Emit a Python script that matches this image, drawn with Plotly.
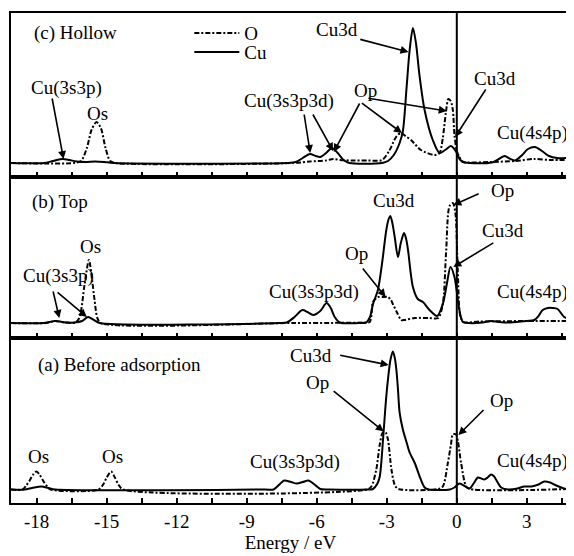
import plotly.graph_objects as go
from plotly.subplots import make_subplots

# ---------------- data (energy in eV, PDOS in arbitrary units) ----------------
# (c) Hollow
hollow_cu_energy = [-19.1, -17.7, -17.3, -16.9, -16.6, -16.3, -15.9, -15.5, -15.1, -14.7,
                    -7.3, -6.9, -6.6, -6.3, -6.05, -5.85, -5.6, -5.35, -5.1, -4.85, -4.6,
                    -3.2, -2.95, -2.7, -2.45, -2.31, -2.15, -2.02, -1.88, -1.75, -1.6, -1.38,
                    -1.03, -0.74, -0.5, -0.25, -0.05, 0.15, 0.35, 1.5, 1.8, 2.05, 2.3, 2.5,
                    2.8, 3.05, 3.35, 3.65, 3.95, 4.3, 4.85]
hollow_cu_dos = [0, 0, 2, 4, 3, 1.5, 1, 1.5, 1, 0,
                 0, 1, 5, 9, 7, 6, 10, 15, 10, 3, 0,
                 0, 2, 8, 20, 32, 76, 113, 135, 120, 88, 53,
                 23, 10, 13, 17, 12, 3, 0.5, 0.5, 4, 7, 4, 2.5,
                 8, 14, 16, 12, 7, 5, 5]
hollow_o_energy = [-19.1, -16.4, -16.1, -15.85, -15.65, -15.44, -15.25, -15.05, -14.85, -14.6,
                   -7.0, -6.3, -5.6, -5.3, -5.0, -4.5, -3.8, -3.2, -2.9, -2.6, -2.4, -2.2,
                   -1.96, -1.54, -0.95, -0.74, -0.6, -0.47, -0.36, -0.26, -0.17, -0.1, 0.0,
                   0.11, 0.25, 0.5, 1.5, 2.5, 3.3, 4.0, 4.85]
hollow_o_dos = [0, 0, 2, 15, 33, 41, 35, 15, 2, 0,
                0, 1.5, 2.5, 4, 3, 2.5, 2.5, 3, 12, 26, 30, 27,
                23, 13, 8, 10, 25, 50, 64, 62, 53, 28, 12,
                6, 1, 0.5, 1, 2, 4, 3, 3]

# (b) Top
top_cu_energy = [-19.1, -17.7, -17.45, -17.23, -17.0, -16.7, -16.4, -16.05, -15.8, -15.55, -15.3,
                 -7.6, -7.29, -6.95, -6.62, -6.4, -6.15, -5.85, -5.58, -5.4, -5.23, -5.01,
                 -4.2, -3.88, -3.72, -3.59, -3.38, -3.2, -3.02, -2.92, -2.85, -2.76, -2.66,
                 -2.52, -2.4, -2.26, -2.17, -2.09, -1.88, -1.67, -1.45, -1.17, -0.84, -0.6,
                 -0.42, -0.27, -0.1, 0.11, 0.26, 0.5, 1.1, 1.47, 1.8, 2.3, 3.0, 3.32, 3.5,
                 3.68, 3.9, 4.1, 4.32, 4.6, 4.85]
top_cu_dos = [0, 0, 1, 2, 1.5, 0.5, 0.5, 2, 6, 3, 0,
              0, 0.5, 6, 13, 11, 8, 12, 20, 15, 6, 0.5,
              0, 0.5, 6, 19, 33, 60, 93, 104, 107, 100, 86,
              66, 80, 90, 84, 73, 36, 24, 21, 13, 7, 19,
              40, 56, 46, 13, 1, 0, 0.5, 2, 1, 0.5, 2, 3, 7,
              13, 15, 15, 14, 6, 4]
top_o_energy = [-19.1, -17.6, -17.2, -16.8, -16.35, -16.2, -16.1, -15.95, -15.76, -15.62, -15.52,
                -15.4, -15.25, -7.0, -4.0, -3.73, -3.59, -3.45, -3.38, -3.15, -2.95, -2.82,
                -2.74, -2.55, -2.38, -2.24, -1.8, -1.2, -0.8, -0.6, -0.46, -0.31, -0.17,
                -0.06, 0.04, 0.16, 0.3, 1.0, 3.0, 4.85]
top_o_dos = [0, 0, 2, 0.5, 0.5, 4, 12, 38, 63, 42, 23,
             5, 0, 0, 0.5, 1, 21, 25, 26, 26, 26, 23,
             19, 10, 3, 3, 5, 5, 5, 19, 70, 117, 120,
             110, 53, 6, 1, 1.5, 2, 2]

# (a) Before adsorption
before_cu_energy = [-19.1, -18.5, -18.1, -17.8, -17.5, -17.2, -8.2, -7.85, -7.6, -7.4, -7.1,
                    -6.85, -6.6, -6.35, -6.1, -5.85, -5.5, -3.8, -3.59, -3.4, -3.3, -3.16,
                    -3.05, -2.95, -2.84, -2.74, -2.66, -2.59, -2.52, -2.45, -2.31, -2.15,
                    -2.02, -1.81, -1.59, -1.38, -1.2, -0.3, -0.1, 0.11, 0.3, 0.54, 0.72, 0.9,
                    1.05, 1.18, 1.32, 1.47, 1.6, 1.68, 1.9, 2.2, 2.6, 2.89, 3.2, 3.5, 3.75,
                    4.0, 4.17, 4.6, 4.85]
before_cu_dos = [0, 0, 2, 3, 1.5, 0, 0, 0, 5, 9, 7.5,
                 6, 7.5, 9, 5, 0.5, 0, 0, 0.5, 6, 13, 50,
                 85, 110, 130, 138, 132, 120, 100, 77, 60, 47,
                 37, 27, 13, 2, 0, 0, 2, 6, 4, 1, 6, 12,
                 11, 10, 12, 15, 13, 10, 2, 0, 1, 3, 3, 5, 8,
                 7, 5, 1, 0]
before_o_energy = [-19.1, -18.6, -18.45, -18.3, -18.15, -18.01, -17.88, -17.73, -17.55, -17.4,
                   -15.35, -15.15, -15.0, -14.81, -14.65, -14.5, -14.3, -3.85, -3.66, -3.45,
                   -3.3, -3.17, -3.05, -2.95, -2.8, -2.65, -2.5, -0.8, -0.6, -0.38, -0.25,
                   -0.17, -0.03, 0.05, 0.18, 0.4, 0.55, 4.85]
before_o_dos = [0, 0, 4, 9, 15, 18, 15, 9, 3, 0,
                0, 5, 12, 18, 12, 5, 0, 0, 3, 20,
                45, 57, 57, 50, 20, 4, 0.5, 0.5, 3, 27, 45,
                55, 55, 48, 27, 3, 0.5, 0.5]

tick_values = [-18, -16.5, -15, -13.5, -12, -10.5, -9, -7.5, -6, -4.5, -3, -1.5, 0, 1.5, 3, 4.5]
tick_labels = ["-18", "", "-15", "", "-12", "", "-9", "", "-6", "", "-3", "", "0", "", "3", ""]

FONT = "Liberation Serif, Times New Roman, serif"
O_DASH = "5px,2px,2px,2px"

fig = make_subplots(rows=3, cols=1, shared_xaxes=True, vertical_spacing=0)

panels = [
    (1, hollow_o_energy, hollow_o_dos, hollow_cu_energy, hollow_cu_dos, True),
    (2, top_o_energy, top_o_dos, top_cu_energy, top_cu_dos, False),
    (3, before_o_energy, before_o_dos, before_cu_energy, before_cu_dos, False),
]
for row, oe, od, ce, cd, leg in panels:
    fig.add_trace(go.Scatter(x=ce, y=cd, mode="lines", name="Cu", showlegend=leg,
                             legend="legend2",
                             line=dict(color="black", width=2, shape="spline", smoothing=0.8)),
                  row=row, col=1)
    fig.add_trace(go.Scatter(x=oe, y=od, mode="lines", name="O", showlegend=leg,
                             legend="legend",
                             line=dict(color="black", width=2, dash=O_DASH, shape="spline",
                                       smoothing=0.8)),
                  row=row, col=1)

# domains and axes
domains = {1: [0.6653, 1.0], 2: [0.3367, 0.6653], 3: [0.0, 0.3367]}
yranges = {1: [-14, 150], 2: [-15, 146], 3: [-13.5, 151.5]}
for row in (1, 2, 3):
    fig.update_yaxes(domain=domains[row], range=yranges[row], showline=True, mirror=True,
                     linewidth=2, linecolor="black", ticks="", showticklabels=False,
                     showgrid=False, zeroline=False, row=row, col=1)
    fig.update_xaxes(range=[-19.1, 4.85], showline=True, mirror=True, linewidth=2,
                     linecolor="black", ticks="inside", ticklen=5, tickwidth=1.5,
                     tickcolor="black", tickvals=tick_values, ticktext=tick_labels,
                     showticklabels=(row == 3), showgrid=False, zeroline=False,
                     row=row, col=1)
fig.update_xaxes(title=dict(text="Energy / eV", font=dict(family=FONT, size=19, color="black"),
                            standoff=4),
                 tickfont=dict(family=FONT, size=19, color="black"), row=3, col=1)

fig.add_shape(type="line", xref="x", yref="paper", x0=0, x1=0, y0=0, y1=1,
              line=dict(color="black", width=2))

ann = []


def label(text, x, y, panel, anchor="center"):
    ann.append(dict(text=text, x=x, y=y, xref="x", yref=panel, showarrow=False,
                    xanchor=anchor, yanchor="middle",
                    font=dict(family=FONT, size=19, color="black")))


def arrow(x0, y0, x1, y1, panel):
    ann.append(dict(text="", x=x1, y=y1, ax=x0, ay=y0, xref="x", yref=panel,
                    axref="x", ayref=panel, showarrow=True, arrowhead=2, arrowsize=1,
                    arrowwidth=1.6, arrowcolor="black", standoff=0, startstandoff=0))


# panel (c) Hollow
label("(c) Hollow", -18.2, 130, "y", "left")
label("Cu(3s3p)", -16.71, 75, "y")
arrow(-17.35, 66, -16.85, 4, "y")
label("Os", -15.39, 50, "y")
label("Cu(3s3p3d)", -7.19, 62, "y")
arrow(-6.55, 50, -6.28, 10, "y")
arrow(-6.2, 50, -5.3, 12, "y")
label("Op", -3.92, 73, "y")
arrow(-4.13, 61, -5.27, 11, "y")
arrow(-4.13, 61, -2.35, 30, "y")
arrow(-3.85, 65, -0.43, 52, "y")
label("Cu3d", -5.13, 134, "y")
arrow(-4.2, 124, -2.07, 111, "y")
label("Cu3d", 1.63, 85, "y")
arrow(1.28, 75, -0.07, 26, "y")
label("Cu(4s4p)", 4.84, 30, "y", "right")

# panel (b) Top
label("(b) Top", -18.29, 121, "y2", "left")
label("Os", -15.69, 77, "y2")
label("Cu(3s3p)", -17.05, 47, "y2")
arrow(-17.31, 33, -17.03, 5, "y2")
arrow(-17.17, 32, -15.85, 6, "y2")
label("Cu(3s3p3d)", -6.12, 31, "y2")
label("Cu3d", -2.71, 123, "y2")
label("Op", -4.29, 70, "y2")
arrow(-4.08, 56, -3.05, 26, "y2")
label("Op", 1.95, 133, "y2")
arrow(1.0, 130, -0.15, 118, "y2")
label("Cu3d", 1.99, 93, "y2")
arrow(1.63, 81, -0.15, 56, "y2")
label("Cu(4s4p)", 4.84, 31, "y2", "right")

# panel (a) Before adsorption
label("(a) Before adsorption", -18.04, 124.5, "y3", "left")
label("Os", -17.93, 33.5, "y3")
label("Os", -14.75, 33.5, "y3")
label("Cu(3s3p3d)", -6.93, 27.5, "y3")
label("Cu3d", -6.26, 134.5, "y3")
arrow(-5.06, 134.5, -2.92, 124.5, "y3")
label("Op", -5.95, 107.5, "y3")
arrow(-5.34, 99.5, -3.13, 58, "y3")
label("Op", 1.9, 89.5, "y3")
arrow(1.21, 81, 0.07, 54.5, "y3")
label("Cu(4s4p)", 4.84, 28.5, "y3", "right")

legend_style = dict(xanchor="left", yanchor="middle", bgcolor="rgba(0,0,0,0)", borderwidth=0,
                    font=dict(family=FONT, size=19, color="black"), itemwidth=45)

# the page body has a default 8px margin: size the figure so the plot lands in place
fig.update_layout(
    width=566, height=548,
    margin=dict(l=3, r=2, t=5, b=53),
    paper_bgcolor="white", plot_bgcolor="white",
    font=dict(family=FONT, size=19, color="black"),
    annotations=ann,
    showlegend=True,
    legend=dict(x=0.319, y=0.959, **legend_style),
    legend2=dict(x=0.319, y=0.920, **legend_style),
)

fig.write_html("out.html")
